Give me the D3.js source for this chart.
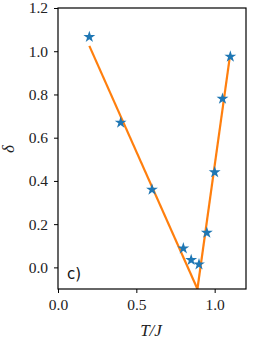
<!DOCTYPE html>
<html><head><meta charset="utf-8">
<script src="https://cdn.jsdelivr.net/npm/d3@7"></script>
<style>body{margin:0;background:#fff}svg{display:block}
.sf{font-family:"Liberation Serif","Times New Roman","DejaVu Serif",Times,serif}</style>
</head><body>
<script>
const temps = [0.2, 0.4, 0.6, 0.8, 0.85, 0.9, 0.95, 1.0, 1.05, 1.1];
const deltas = [1.066, 0.67, 0.36, 0.088, 0.034, 0.014, 0.16, 0.44, 0.78, 0.975];
const fitLeftT = [0.2, 0.89];
const fitLeftD = [1.025, -0.1];
const fitRightT = [0.89, 1.097];
const fitRightD = [-0.1, 0.975];
const xTicks = [0.0, 0.5, 1.0];
const yTicks = [0.0, 0.2, 0.4, 0.6, 0.8, 1.0, 1.2];

const W = 255, H = 343;
const m = {l: 58, t: 8, r: 246, b: 289};
const svg = d3.select("body").append("svg").attr("width", W).attr("height", H);
const x = d3.scaleLinear().domain([0, 1.2]).range([m.l, m.r]);
const y = d3.scaleLinear().domain([-0.1, 1.2]).range([m.b, m.t]);

const gx = svg.append("g").attr("transform", `translate(0,${m.b})`)
  .call(d3.axisBottom(x).tickValues(xTicks).tickFormat(d3.format(".1f")).tickSize(4).tickPadding(6));
const gy = svg.append("g").attr("transform", `translate(${m.l},0)`)
  .call(d3.axisLeft(y).tickValues(yTicks).tickFormat(d3.format(".1f")).tickSize(4).tickPadding(6));
[gx, gy].forEach(g => {
  g.attr("font-family", null).attr("font-size", null);
  g.select(".domain").remove();
  g.selectAll("line").attr("stroke", "#000").attr("stroke-width", 1);
  g.selectAll("text").attr("class", "sf").style("font-size", "15.5px").attr("fill", "#222");
});

svg.append("clipPath").attr("id", "c").append("rect")
  .attr("x", m.l).attr("y", m.t).attr("width", m.r - m.l).attr("height", m.b - m.t);
const plot = svg.append("g").attr("clip-path", "url(#c)");
const line = d3.line().x(d => x(d[0])).y(d => y(d[1]));
[[fitLeftT, fitLeftD], [fitRightT, fitRightD]].forEach(([ts, ds]) => {
  plot.append("path").datum(ts.map((t, i) => [t, ds[i]]))
    .attr("d", line).attr("fill", "none").attr("stroke", "#ff7f0e").attr("stroke-width", 2.2);
});
svg.append("g").selectAll("path").data(temps.map((t, i) => [t, deltas[i]])).join("path")
  .attr("d", d3.symbol(d3.symbolStar, 44))
  .attr("transform", d => `translate(${x(d[0])},${y(d[1])})`)
  .attr("fill", "#1f77b4");

svg.append("rect").attr("x", m.l).attr("y", m.t).attr("width", m.r - m.l).attr("height", m.b - m.t)
  .attr("fill", "none").attr("stroke", "#000").attr("stroke-width", 1.2);

svg.append("text").attr("x", 67).attr("y", 279).style("font-family", "DejaVu Sans")
  .style("font-size", "15px").attr("fill", "#111").text("c)");
svg.append("text").attr("class", "sf").attr("x", 151).attr("y", 336).attr("text-anchor", "middle")
  .style("font-style", "italic").style("font-size", "17px").attr("fill", "#222").text("T/J");
svg.append("text").attr("class", "sf").attr("transform", "translate(14,149) rotate(-90)").attr("text-anchor", "middle")
  .style("font-style", "italic").style("font-size", "17px").attr("fill", "#222").text("δ");
</script>
</body></html>
